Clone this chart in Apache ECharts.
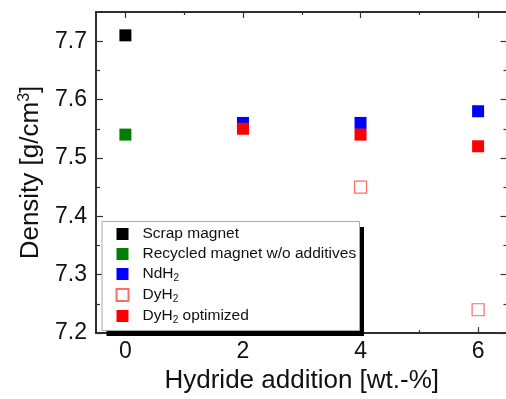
<!DOCTYPE html>
<html><head><meta charset="utf-8">
<script src="https://cdn.jsdelivr.net/npm/echarts@6/dist/echarts.min.js"></script>
<style>html,body{margin:0;padding:0;overflow:hidden;background:#fff}#c{width:510px;height:399px}</style>
</head><body><div id="c"></div>
<script>
const seriesNames = ['Scrap magnet', 'Recycled magnet w/o additives', 'NdH2', 'DyH2', 'DyH2 optimized'];
const scrapX = [0], scrapY = [7.71];
const recycledX = [0], recycledY = [7.54];
const ndh2X = [2, 4, 6], ndh2Y = [7.56, 7.56, 7.58];
const dyh2X = [4, 6], dyh2Y = [7.45, 7.24];
const dyOptX = [2, 4, 6], dyOptY = [7.55, 7.54, 7.52];
const xTickLabels = [0, 2, 4, 6];
const xMinorTicks = [1, 3, 5];
const yTickLabels = [7.2, 7.3, 7.4, 7.5, 7.6, 7.7];
const yMinorTicks = [7.25, 7.35, 7.45, 7.55, 7.65];
const xTitle = 'Hydride addition [wt.-%]';

const pairs = (xs, ys) => xs.map((x, i) => [x, ys[i]]);
const FONT = 'Liberation Sans, Arial, sans-serif';
const lineStyle = { color: '#222', width: 1.5 };

function xAx(pos, ticks, len, labels) {
  return {
    type: 'value', position: pos, min: -0.5, max: 6.5,
    axisLine: { show: true, lineStyle: lineStyle, onZero: false },
    axisTick: { show: true, inside: true, length: len, customValues: ticks, lineStyle: { color: '#333', width: 1.2 } },
    axisLabel: labels ? { show: true, customValues: ticks, fontSize: 23, color: '#111', fontFamily: FONT, margin: 7 } : { show: false },
    splitLine: { show: false }
  };
}
function yAx(pos, ticks, len, labels) {
  return {
    type: 'value', position: pos, min: 7.2, max: 7.75,
    axisLine: { show: true, lineStyle: lineStyle, onZero: false },
    axisTick: { show: true, inside: true, length: len, customValues: ticks, lineStyle: { color: '#333', width: 1.2 } },
    axisLabel: labels ? { show: true, customValues: ticks, fontSize: 23, color: '#111', fontFamily: FONT, margin: 9, formatter: v => v.toFixed(1) } : { show: false },
    splitLine: { show: false }
  };
}

const xAxes = [xAx('bottom', xTickLabels, 6, true), xAx('bottom', xMinorTicks, 3, false), xAx('top', xTickLabels, 6, false), xAx('top', xMinorTicks, 3, false)];
xAxes[0].name = xTitle;
xAxes[0].nameLocation = 'middle';
xAxes[0].nameGap = 30;
xAxes[0].nameTextStyle = { fontSize: 26, color: '#111', fontFamily: FONT };

const yAxes = [yAx('left', yTickLabels, 7, true), yAx('left', yMinorTicks, 4, false), yAx('right', yTickLabels, 7, false), yAx('right', yMinorTicks, 4, false)];
yAxes[0].name = '{t|Density [g/cm}{sup|3}{t|]}';
yAxes[0].nameLocation = 'middle';
yAxes[0].nameRotate = 90;
yAxes[0].nameGap = 48;
yAxes[0].nameTextStyle = { rich: { t: { fontSize: 26, color: '#111', fontFamily: FONT, lineHeight: 30 }, sup: { fontSize: 16, color: '#111', fontFamily: FONT, verticalAlign: 'top', lineHeight: 30, padding: [0, 0, 12, 0] } } };

const colors = ['#000000', '#007f00', '#0000ff', '#ff6b6b', '#ff0000'];
const datas = [pairs(scrapX, scrapY), pairs(recycledX, recycledY), pairs(ndh2X, ndh2Y), pairs(dyh2X, dyh2Y), pairs(dyOptX, dyOptY)];
const series = seriesNames.map((n, i) => ({
  name: n, type: 'scatter', symbol: 'rect', symbolSize: 12, data: datas[i],
  xAxisIndex: 0, yAxisIndex: 0,
  itemStyle: i === 3 ? { color: '#ffffff', borderColor: colors[i], borderWidth: 1.2, opacity: 1 } : { color: colors[i], opacity: 1 },
  emphasis: { disabled: true },
  z: 2 + i
}));

function legendFmt(name) {
  if (name === 'NdH2') return '{a|NdH}{s|2}';
  if (name === 'DyH2') return '{a|DyH}{s|2}';
  if (name === 'DyH2 optimized') return '{a|DyH}{s|2}{a| optimized}';
  return '{a|' + name + '}';
}

const chart = echarts.init(document.getElementById('c'), null, { renderer: 'canvas' });
chart.setOption({
  animation: false,
  backgroundColor: '#fff',
  grid: { left: 96, top: 12, right: 2.5, bottom: 62, containLabel: false },
  xAxis: xAxes,
  yAxis: yAxes,
  graphic: [{
    type: 'rect', z: 3, left: 106.5, top: 227,
    shape: { width: 257.5, height: 109 },
    style: { fill: '#000' }
  }, {
    type: 'rect', z: 4, left: 101.5, top: 221,
    shape: { width: 257.5, height: 109 },
    style: { fill: '#fff', stroke: '#aaa', lineWidth: 1 }
  }],
  legend: {
    orient: 'vertical', left: 115.5, top: 226, padding: 0,
    itemWidth: 12, itemHeight: 12, itemGap: 4, z: 10,
    icon: 'rect',
    data: seriesNames,
    formatter: legendFmt,
    textStyle: {
      padding: [0, 0, 0, 9],
      rich: {
        a: { fontSize: 15.5, color: '#111', fontFamily: FONT, lineHeight: 15 },
        s: { fontSize: 10, color: '#111', fontFamily: FONT, verticalAlign: 'bottom', lineHeight: 18 }
      }
    }
  },
  series: series
});
</script></body></html>
